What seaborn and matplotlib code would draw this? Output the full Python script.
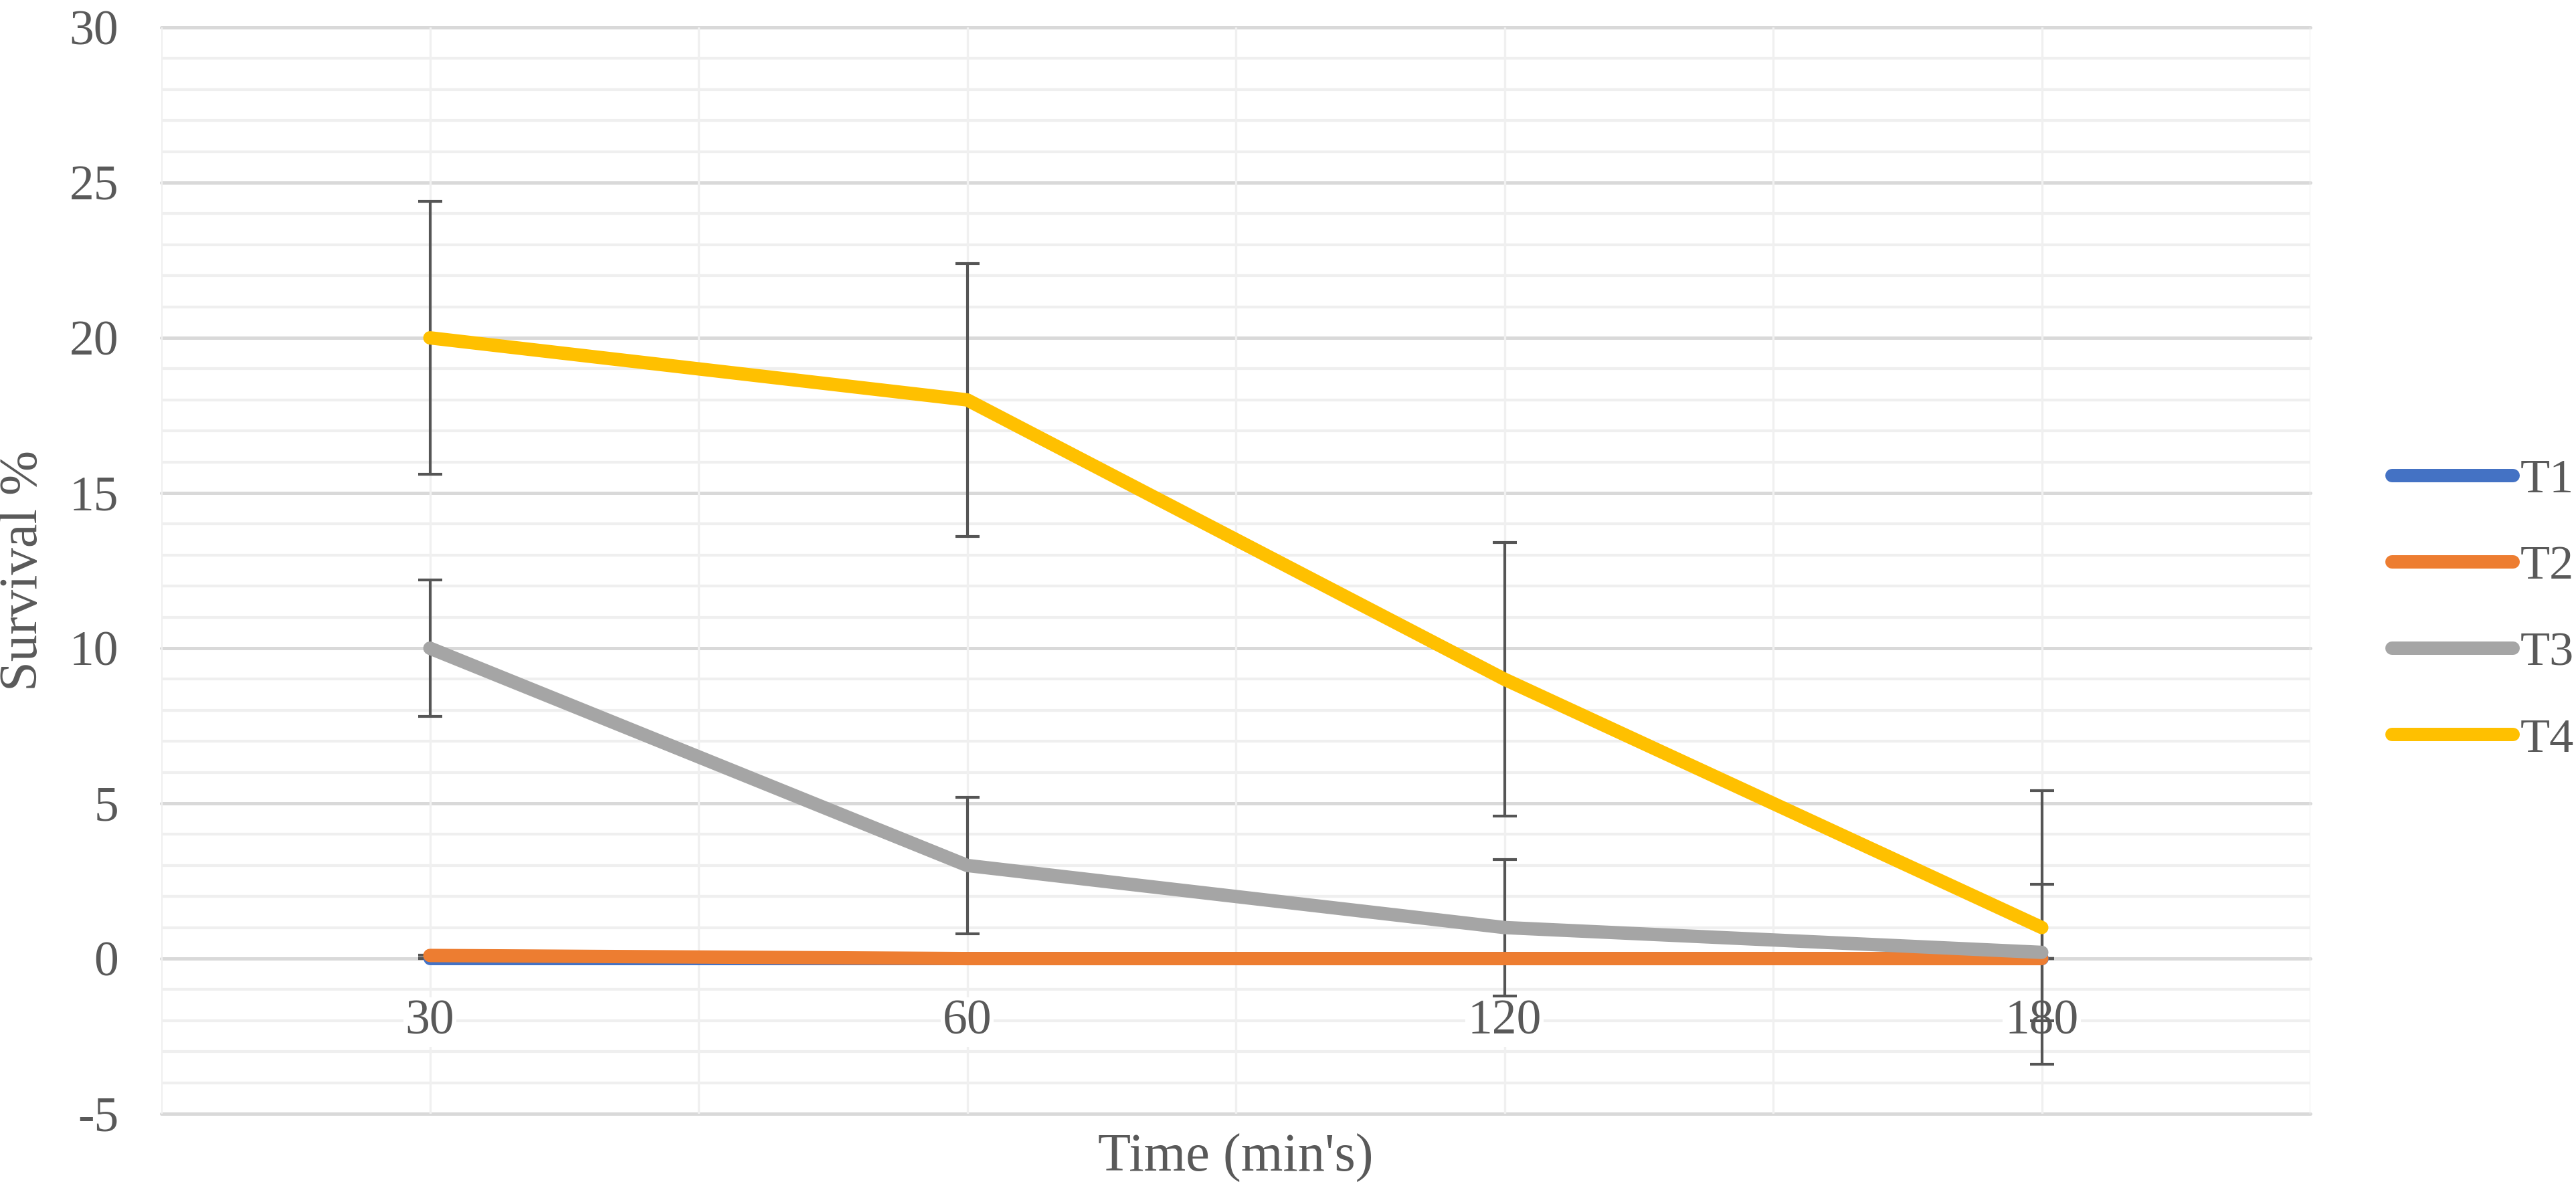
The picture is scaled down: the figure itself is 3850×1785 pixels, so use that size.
"""Survival % over time for four treatments, with error bars."""

import matplotlib

matplotlib.use("Agg")
import matplotlib.pyplot as plt
import matplotlib.ticker as mticker
import pandas as pd
import seaborn as sns
from matplotlib.lines import Line2D

# data
times = ["30", "60", "120", "180"]
series_names = ["T1", "T2", "T3", "T4"]
t1_values = [0, 0, 0, 0]
t2_values = [0.1, 0, 0, 0]
t3_values = [10, 3, 1, 0.2]
t4_values = [20, 18, 9, 1]
t1_err = [0, 0, 0, 0]
t2_err = [0, 0, 0, 0]
t3_err = [2.2, 2.2, 2.2, 2.2]
t4_err = [4.4, 4.4, 4.4, 4.4]

colors = {"T1": "#4472C4", "T2": "#ED7D31", "T3": "#A5A5A5", "T4": "#FFC000"}
text_color = "#595959"

values = {"T1": t1_values, "T2": t2_values, "T3": t3_values, "T4": t4_values}
errors = {"T1": t1_err, "T2": t2_err, "T3": t3_err, "T4": t4_err}

rows = []
for name in series_names:
    for t, v in zip(times, values[name]):
        rows.append({"time": t, "survival": v, "series": name})
df = pd.DataFrame(rows)

sns.set_theme(style="white")
plt.rcParams["font.family"] = ["Liberation Serif", "DejaVu Serif"]
plt.rcParams["axes.unicode_minus"] = False

fig = plt.figure(figsize=(19.25, 8.925), dpi=200)
ax = fig.add_axes([0.0626, 0.0672, 0.8343, 0.9098])

line_width = 7.2
sns.lineplot(
    data=df,
    x="time",
    y="survival",
    hue="series",
    hue_order=series_names,
    palette=colors,
    sort=False,
    linewidth=line_width,
    legend=False,
    ax=ax,
    zorder=3,
)
for line in ax.get_lines():
    line.set_solid_capstyle("round")
    line.set_solid_joinstyle("round")

# error bars sit under the lines but over the axis labels
for name in series_names:
    ax.errorbar(
        times,
        values[name],
        yerr=errors[name],
        fmt="none",
        ecolor="#555555",
        elinewidth=1.5,
        capsize=6.6,
        capthick=1.5,
        zorder=2,
    )

ax.set_xlim(-0.5, 3.5)
ax.set_ylim(-5, 30)

# y grid: major every 5, minor every 1
ax.yaxis.set_major_locator(mticker.MultipleLocator(5))
ax.yaxis.set_minor_locator(mticker.MultipleLocator(1))
ax.grid(which="major", axis="y", color="#D9D9D9", linewidth=1.8)
ax.grid(which="minor", axis="y", color="#EFEFEF", linewidth=1.5)

# x grid: light lines at every half category
ax.xaxis.set_minor_locator(mticker.FixedLocator([i * 0.5 - 0.5 for i in range(9)]))
ax.grid(which="both", axis="x", color="#F0F0F0", linewidth=1.2)
for gl in ax.get_ygridlines() + ax.get_xgridlines():
    gl.set_clip_on(False)

for spine in ax.spines.values():
    spine.set_visible(False)

# Excel-style category axis crossing at 0
ax.spines["bottom"].set_position(("data", 0))
ax.tick_params(axis="both", which="both", length=0)
ax.tick_params(axis="x", labelsize=26.5, labelcolor=text_color, pad=22)
ax.tick_params(axis="y", labelsize=26.5, labelcolor=text_color, pad=23)
ax.xaxis.set_zorder(0.6)
for lbl in ax.get_xticklabels():
    lbl.set_bbox(dict(facecolor="white", edgecolor="none", pad=1))

ax.set_xlabel("Time (min's)", fontsize=29, color=text_color, va="center")
ax.xaxis.set_label_coords(0.5, -0.041)
ax.set_ylabel("Survival %", fontsize=29, color=text_color, va="center")
ax.yaxis.set_label_coords(-0.0641, 0.5)

handles = [
    Line2D([0], [0], color=colors[n], linewidth=line_width, solid_capstyle="round")
    for n in series_names
]
fig.legend(
    handles,
    series_names,
    loc="center left",
    bbox_to_anchor=(0.9286, 0.489),
    frameon=False,
    fontsize=26,
    labelcolor=text_color,
    handlelength=2.5,
    handletextpad=0.15,
    labelspacing=0.88,
    borderpad=0,
    borderaxespad=0,
)

fig.savefig("out.png", dpi=200)
plt.close(fig)
